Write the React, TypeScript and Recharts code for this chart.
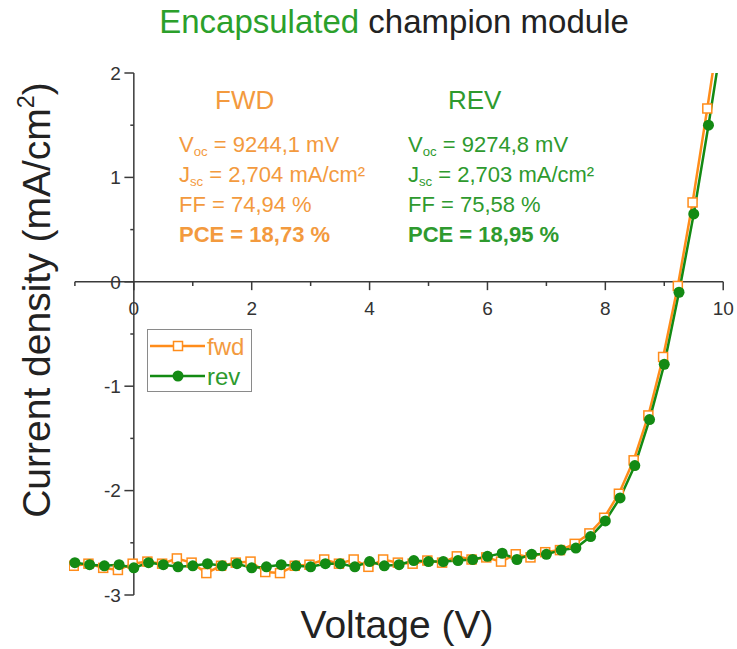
import React from 'react';
import { LineChart, Line, XAxis, YAxis, ReferenceLine, ReferenceDot, Legend } from 'recharts';

// Reverse scan (filled circles)
const revVoltage = [-1, -0.75, -0.5, -0.25, 0, 0.25, 0.5, 0.75, 1, 1.25, 1.5, 1.75, 2, 2.25, 2.5, 2.75, 3, 3.25, 3.5, 3.75, 4, 4.25, 4.5, 4.75, 5, 5.25, 5.5, 5.75, 6, 6.25, 6.5, 6.75, 7, 7.25, 7.5, 7.75, 8, 8.25, 8.5, 8.75, 9, 9.25, 9.5, 9.75, 10];
const revCurrent = [-2.69, -2.71, -2.72, -2.71, -2.74, -2.69, -2.71, -2.73, -2.72, -2.7, -2.72, -2.7, -2.74, -2.73, -2.71, -2.72, -2.73, -2.7, -2.7, -2.73, -2.68, -2.72, -2.71, -2.67, -2.68, -2.68, -2.67, -2.66, -2.63, -2.6, -2.66, -2.61, -2.61, -2.57, -2.55, -2.44, -2.29, -2.07, -1.76, -1.32, -0.79, -0.1, 0.65, 1.5, 2.4];

// Forward scan (open squares)
const fwdVoltage = [-1.02, -0.77, -0.52, -0.27, -0.02, 0.23, 0.48, 0.73, 0.98, 1.23, 1.48, 1.73, 1.98, 2.23, 2.48, 2.73, 2.98, 3.23, 3.48, 3.73, 3.98, 4.23, 4.48, 4.73, 4.98, 5.23, 5.48, 5.73, 5.98, 6.23, 6.48, 6.73, 6.98, 7.23, 7.48, 7.73, 7.98, 8.23, 8.48, 8.73, 8.98, 9.23, 9.48, 9.73, 9.98];
const fwdCurrent = [-2.72, -2.7, -2.74, -2.76, -2.7, -2.68, -2.7, -2.65, -2.69, -2.79, -2.72, -2.69, -2.68, -2.78, -2.79, -2.72, -2.71, -2.66, -2.7, -2.66, -2.73, -2.66, -2.69, -2.7, -2.67, -2.69, -2.63, -2.66, -2.64, -2.68, -2.61, -2.64, -2.59, -2.57, -2.51, -2.41, -2.26, -2.03, -1.71, -1.28, -0.72, -0.04, 0.76, 1.66, 2.6];

const xMajorTicks = [0, 2, 4, 6, 8, 10];
const xMinorTicks = [-1, 1, 3, 5, 7, 9];
const yMajorTicks = [-3, -2, -1, 0, 1, 2];
const yMinorTicks = [-2.5, -1.5, -0.5, 0.5, 1.5];

const revData = revVoltage.map((v, i) => ({ v, j: revCurrent[i] }));
const fwdData = fwdVoltage.map((v, i) => ({ v, j: fwdCurrent[i] }));

const ORANGE = '#FF8C1A';
const ORANGE_TEXT = '#F39A3E';
const GREEN = '#138A13';
const GREEN_TEXT = '#2E9A2E';
const AXIS = '#3a3a3a';
const FONT = '"Liberation Sans", Arial, Helvetica, sans-serif';

const renderSquare = (props: any) => {
  const { cx, cy, index } = props;
  if (cx == null || cy == null) return <g key={`sq-${index}`} />;
  return (
    <rect key={`sq-${index}`} x={cx - 4.5} y={cy - 4.5} width={9} height={9} fill="#fff" stroke={ORANGE} strokeWidth={1.5} />
  );
};

const LegendBox = () => (
  <div style={{ width: 105, height: 63, border: '1px solid #8a8a8a', boxSizing: 'border-box', background: '#fff' }}>
    <svg width={103} height={61} style={{ display: 'block' }}>
      <line x1={2} y1={16} x2={57} y2={16} stroke={ORANGE} strokeWidth={2.5} />
      <rect x={25.5} y={11.5} width={9} height={9} fill="#fff" stroke={ORANGE} strokeWidth={1.5} />
      <text x={59} y={16} dominantBaseline="central" fill={ORANGE_TEXT} fontSize={24} fontFamily={FONT}>fwd</text>
      <line x1={2} y1={46} x2={57} y2={46} stroke={GREEN} strokeWidth={2.5} />
      <circle cx={30} cy={46} r={5.5} fill={GREEN} />
      <text x={59} y={46} dominantBaseline="central" fill={GREEN_TEXT} fontSize={24} fontFamily={FONT}>rev</text>
    </svg>
  </div>
);

const sub = (t: string) => (
  <span style={{ fontSize: '0.6em', verticalAlign: '-0.3em' }}>{t}</span>
);

const textLine = (left: number, top: number, color: string, size: number, content: React.ReactNode, bold = false) => (
  <div style={{ position: 'absolute', left, top, color, fontSize: size, lineHeight: `${size}px`, fontWeight: bold ? 'bold' : 'normal', whiteSpace: 'nowrap', fontFamily: FONT }}>
    {content}
  </div>
);

export default function App() {
  return (
    <div style={{ position: 'absolute', left: 0, top: 0, width: 737, height: 649, background: '#fff', fontFamily: FONT, overflow: 'hidden' }}>
      <LineChart width={737} height={649} margin={{ top: 73, right: 2, bottom: 54, left: 69 }}>
        <XAxis type="number" dataKey="v" domain={[-1.1, 10.2]} hide allowDataOverflow />
        <YAxis type="number" dataKey="j" domain={[-3, 2]} hide allowDataOverflow />
        {/* axis lines crossing at origin */}
        <ReferenceLine segment={[{ x: -1, y: 0 }, { x: 10, y: 0 }]} stroke={AXIS} strokeWidth={1.5} />
        <ReferenceLine segment={[{ x: 0, y: -3 }, { x: 0, y: 2 }]} stroke={AXIS} strokeWidth={1.5} />
        {xMajorTicks.map((t) => (
          <ReferenceLine key={`xM${t}`} segment={[{ x: t, y: 0 }, { x: t, y: -0.08 }]} stroke={AXIS} strokeWidth={1.5} />
        ))}
        {xMinorTicks.map((t) => (
          <ReferenceLine key={`xm${t}`} segment={[{ x: t, y: 0 }, { x: t, y: -0.04 }]} stroke={AXIS} strokeWidth={1.5} />
        ))}
        {yMajorTicks.map((t) => (
          <ReferenceLine key={`yM${t}`} segment={[{ x: 0, y: t }, { x: -0.16, y: t }]} stroke={AXIS} strokeWidth={1.5} />
        ))}
        {yMinorTicks.map((t) => (
          <ReferenceLine key={`ym${t}`} segment={[{ x: 0, y: t }, { x: -0.06, y: t }]} stroke={AXIS} strokeWidth={1.5} />
        ))}
        {xMajorTicks.map((t) => (
          <ReferenceDot key={`xl${t}`} x={t} y={0} r={0.01} fill="none" stroke="none"
            label={{ value: String(t), position: 'bottom', offset: 20, fill: '#333', fontSize: 19, fontFamily: FONT }} />
        ))}
        {yMajorTicks.map((t) => (
          <ReferenceDot key={`yl${t}`} x={0} y={t} r={0.01} fill="none" stroke="none"
            label={{ value: String(t), position: 'left', offset: 13, fill: '#333', fontSize: 19, fontFamily: FONT }} />
        ))}
        <Line data={fwdData} dataKey="j" name="fwd" stroke={ORANGE} strokeWidth={2.5} dot={renderSquare} isAnimationActive={false} />
        <Line data={revData} dataKey="j" name="rev" stroke={GREEN} strokeWidth={2.5} dot={{ r: 5.5, fill: GREEN, stroke: GREEN, strokeWidth: 0 }} isAnimationActive={false} />
        <Legend layout="vertical" align="center" verticalAlign="middle" content={() => <LegendBox />}
          wrapperStyle={{ position: 'absolute', left: 147, top: 329, width: 105, height: 63 }} />
      </LineChart>

      {/* title */}
      <div style={{ position: 'absolute', left: 394, top: 3, transform: 'translateX(-50%)', fontSize: 33, lineHeight: '38px', whiteSpace: 'nowrap', color: '#222' }}>
        <span style={{ color: '#2BA02B' }}>Encapsulated</span> champion module
      </div>

      {/* FWD block */}
      {textLine(215, 87, ORANGE_TEXT, 26, 'FWD')}
      {textLine(179, 134, ORANGE_TEXT, 22, <>V{sub('oc')} = 9244,1 mV</>)}
      {textLine(179, 164, ORANGE_TEXT, 22, <>J{sub('sc')} = 2,704 mA/cm²</>)}
      {textLine(179, 194, ORANGE_TEXT, 22, 'FF = 74,94 %')}
      {textLine(179, 224, ORANGE_TEXT, 22, 'PCE = 18,73 %', true)}

      {/* REV block */}
      {textLine(448, 87, GREEN_TEXT, 26, 'REV')}
      {textLine(408, 134, GREEN_TEXT, 22, <>V{sub('oc')} = 9274,8 mV</>)}
      {textLine(408, 164, GREEN_TEXT, 22, <>J{sub('sc')} = 2,703 mA/cm²</>)}
      {textLine(408, 194, GREEN_TEXT, 22, 'FF = 75,58 %')}
      {textLine(408, 224, GREEN_TEXT, 22, 'PCE = 18,95 %', true)}

      {/* axis titles */}
      <div style={{ position: 'absolute', left: 397, top: 604, transform: 'translateX(-50%)', fontSize: 39, lineHeight: '42px', whiteSpace: 'nowrap', color: '#222' }}>
        Voltage (V)
      </div>
      <div style={{ position: 'absolute', left: 37, top: 300, transform: 'translate(-50%, -50%) rotate(-90deg)', fontSize: 39, lineHeight: '42px', whiteSpace: 'nowrap', color: '#222' }}>
        Current density (mA/cm<sup style={{ fontSize: '0.6em', verticalAlign: '0.7em', lineHeight: 0 }}>2</sup>)
      </div>
    </div>
  );
}
